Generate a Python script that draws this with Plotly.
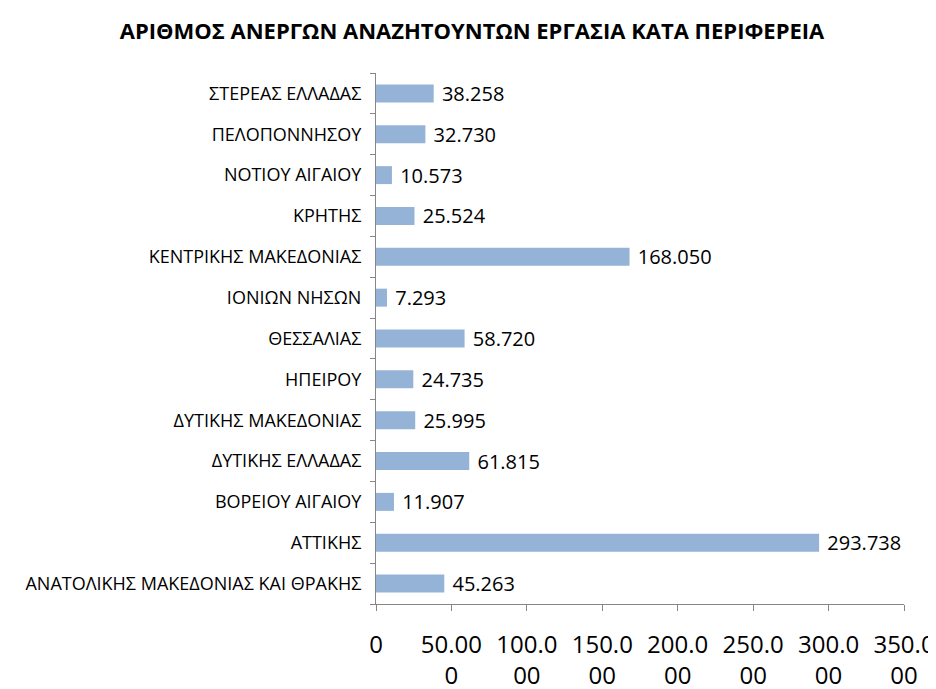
import plotly.graph_objects as go

regions = [
    'ΑΝΑΤΟΛΙΚΗΣ ΜΑΚΕΔΟΝΙΑΣ ΚΑΙ ΘΡΑΚΗΣ',
    'ΑΤΤΙΚΗΣ',
    'ΒΟΡΕΙΟΥ ΑΙΓΑΙΟΥ',
    'ΔΥΤΙΚΗΣ ΕΛΛΑΔΑΣ',
    'ΔΥΤΙΚΗΣ ΜΑΚΕΔΟΝΙΑΣ',
    'ΗΠΕΙΡΟΥ',
    'ΘΕΣΣΑΛΙΑΣ',
    'ΙΟΝΙΩΝ ΝΗΣΩΝ',
    'ΚΕΝΤΡΙΚΗΣ ΜΑΚΕΔΟΝΙΑΣ',
    'ΚΡΗΤΗΣ',
    'ΝΟΤΙΟΥ ΑΙΓΑΙΟΥ',
    'ΠΕΛΟΠΟΝΝΗΣΟΥ',
    'ΣΤΕΡΕΑΣ ΕΛΛΑΔΑΣ',
]
unemployed = [45263, 293738, 11907, 61815, 25995, 24735, 58720,
              7293, 168050, 25524, 10573, 32730, 38258]

tick_vals = [0, 50000, 100000, 150000, 200000, 250000, 300000, 350000]
tick_text = ['0', '50.00<br>0', '100.0<br>00', '150.0<br>00', '200.0<br>00',
             '250.0<br>00', '300.0<br>00', '350.0<br>00']

font = dict(family='Open Sans, Noto Sans, sans-serif', color='black')
axis_color = '#868686'

fig = go.Figure()

fig.add_trace(go.Bar(
    x=unemployed,
    y=regions,
    orientation='h',
    marker=dict(color='#95B3D7', line=dict(width=0)),
    width=0.44,
    texttemplate='\u00a0%{x:,}',
    textposition='outside',
    constraintext='none',
    textfont=dict(size=20, color='black'),
    cliponaxis=False,
))

# page body has an 8px margin, so the figure is 8px smaller than the window
fig.update_layout(
    title=dict(
        text='<b>ΑΡΙΘΜΟΣ ΑΝΕΡΓΩΝ ΑΝΑΖΗΤΟΥΝΤΩΝ ΕΡΓΑΣΙΑ ΚΑΤΑ ΠΕΡΙΦΕΡΕΙΑ</b>',
        x=0.5, xanchor='center', y=0.966, yanchor='middle',
        font=dict(size=22),
    ),
    font=font,
    separators=',.',
    width=928,
    height=681,
    margin=dict(l=368, r=32, t=65, b=85),
    plot_bgcolor='white',
    paper_bgcolor='white',
    showlegend=False,
)

fig.update_xaxes(
    range=[0, 350000],
    tickvals=tick_vals,
    ticktext=tick_text,
    tickfont=dict(size=24),
    ticks='outside',
    ticklen=6,
    tickcolor=axis_color,
    ticklabelstandoff=13,
    showline=True,
    linecolor=axis_color,
    showgrid=False,
    zeroline=False,
    automargin=False,
)

fig.update_yaxes(
    categoryorder='array',
    categoryarray=regions,
    tickson='boundaries',
    ticks='outside',
    ticklen=5,
    tickcolor=axis_color,
    tickfont=dict(size=18),
    ticklabelstandoff=10,
    showline=True,
    linecolor=axis_color,
    showgrid=False,
    range=[-0.5, 12.5],
    automargin=False,
)

fig.write_html('out.html')
